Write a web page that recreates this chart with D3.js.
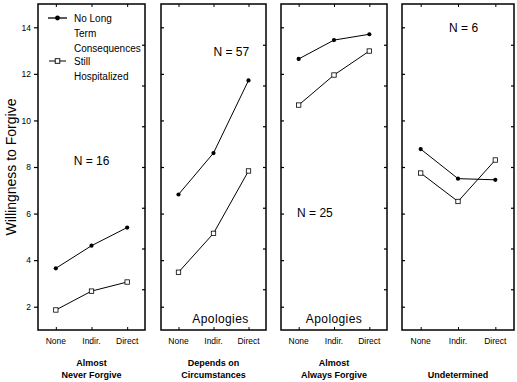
<!DOCTYPE html>
<html>
<head>
<meta charset="UTF-8">
<script src="https://d3js.org/d3.v7.min.js"></script>
<style>
  body { margin: 0; background: #fff; }
  text { font-family: "Liberation Sans", Arial, sans-serif; fill: #000; }
</style>
</head>
<body>
<svg width="517" height="382"></svg>
<script>
// Data
const categories = ["None", "Indir.", "Direct"];
const groups = [["Almost", "Never Forgive"], ["Depends on", "Circumstances"], ["Almost", "Always Forgive"], ["Undetermined"]];
const noLongTerm = [
  [3.65, 4.62, 5.4],
  [6.82, 8.6, 11.72],
  [12.64, 13.45, 13.7],
  [8.77, 7.5, 7.45]
];
const stillHosp = [
  [1.86, 2.67, 3.06],
  [3.48, 5.15, 7.83],
  [10.66, 11.95, 12.98],
  [7.74, 6.52, 8.3]
];
const nValues = [16, 57, 25, 6];
const yTicks = [2, 4, 6, 8, 10, 12, 14];

const svg = d3.select("svg");
const plotTop = 4, plotBottom = 330;
const panelLeft = [38, 161, 281, 402];
const panelRight = [145, 266, 387, 514];

const y = d3.scaleLinear().domain([1, 15]).range([plotBottom, plotTop]);
const yRight = d3.scaleLinear().domain([0, 8]).range([plotBottom, plotTop]);

// N label placement (x offset in panel fraction, y value)
const nPos = [[0.5, 8.1], [0.67, 12.75], [0.32, 5.85], [0.55, 13.8]];

groups.forEach((g, i) => {
  const x0 = panelLeft[i], x1 = panelRight[i];
  const x = d3.scalePoint().domain(categories).range([x0, x1]).padding(0.5);
  const p = svg.append("g");

  // ticks
  p.append("g").attr("transform", `translate(${x0},0)`)
    .call(i === 0 ? d3.axisLeft(y).tickValues(yTicks).tickSize(4).tickPadding(3)
                  : d3.axisRight(y).tickValues(yTicks).tickSize(3).tickFormat(""))
    .call(a => a.select(".domain").remove())
    .call(a => a.selectAll("text").style("font-size", "8.5px").attr("fill", "#333"))
    .call(a => a.selectAll("line").attr("stroke-width", 1.2));
  p.append("g").attr("transform", `translate(${x1},0)`)
    .call(d3.axisLeft(yRight).tickValues([1,2,3,4,5,6,7]).tickSize(3).tickFormat(""))
    .call(a => a.select(".domain").remove())
    .call(a => a.selectAll("line").attr("stroke-width", 1.2));
  p.append("g").attr("transform", `translate(0,${plotTop})`)
    .call(d3.axisBottom(x).tickSize(3).tickFormat(""))
    .call(a => a.select(".domain").remove());
  p.append("g").attr("transform", `translate(0,${plotBottom})`)
    .call(d3.axisTop(x).tickSize(3).tickFormat(""))
    .call(a => a.select(".domain").remove());
  p.selectAll(".cat").data(categories).join("text")
    .attr("x", d => x(d)).attr("y", plotBottom + 14)
    .attr("text-anchor", "middle").style("font-size", "8.5px").attr("fill", "#333")
    .text(d => d);

  // frame
  p.append("rect").attr("x", x0).attr("y", plotTop)
    .attr("width", x1 - x0).attr("height", plotBottom - plotTop)
    .attr("fill", "none").attr("stroke", "#000").attr("stroke-width", 1.5);

  // lines
  const line = d3.line().x((d, j) => x(categories[j])).y(d => y(d));
  p.append("path").attr("d", line(noLongTerm[i])).attr("fill", "none").attr("stroke", "#000").attr("stroke-width", 1);
  p.append("path").attr("d", line(stillHosp[i])).attr("fill", "none").attr("stroke", "#000").attr("stroke-width", 1);
  p.selectAll(".dot").data(noLongTerm[i]).join("circle")
    .attr("cx", (d, j) => x(categories[j])).attr("cy", d => y(d)).attr("r", 2.1).attr("fill", "#000");
  p.selectAll(".sq").data(stillHosp[i]).join("rect")
    .attr("x", (d, j) => x(categories[j]) - 2.2).attr("y", d => y(d) - 2.2)
    .attr("width", 4.4).attr("height", 4.4).attr("fill", "#fff").attr("stroke", "#000").attr("stroke-width", 0.8);

  // N label
  p.append("text").attr("x", x0 + (x1 - x0) * nPos[i][0]).attr("y", y(nPos[i][1]))
    .attr("text-anchor", "middle").style("font-size", "12px").text(`N = ${nValues[i]}`);

  if (i === 1 || i === 2) {
    p.append("text").attr("x", (x(categories[1]) + (i === 1 ? 7 : 0))).attr("y", plotBottom - 7)
      .attr("text-anchor", "middle").style("font-size", "12px").style("letter-spacing", "0.4px").text("Apologies");
  }

  // group titles
  const cx = (x0 + x1) / 2;
  const lines = g.length === 2 ? g : ["", g[0]];
  lines.forEach((t, k) => {
    p.append("text").attr("x", cx).attr("y", 366 + k * 12)
      .attr("text-anchor", "middle").style("font-size", "9px").style("font-weight", "bold").text(t);
  });
});

// y axis title
svg.append("text").attr("transform", `translate(16,${(plotTop + plotBottom) / 2}) rotate(-90)`)
  .attr("text-anchor", "middle").style("font-size", "14px").text("Willingness to Forgive");

// legend
const lg = svg.append("g").attr("transform", "translate(48,0)");
lg.append("line").attr("x1", 0).attr("x2", 19).attr("y1", 18).attr("y2", 18).attr("stroke", "#000").attr("stroke-width", 1.3);
lg.append("circle").attr("cx", 9.5).attr("cy", 18).attr("r", 2.4);
lg.append("line").attr("x1", 1).attr("x2", 18).attr("y1", 61).attr("y2", 61).attr("stroke", "#000").attr("stroke-width", 1);
lg.append("rect").attr("x", 7.2).attr("y", 58.7).attr("width", 4.6).attr("height", 4.6).attr("fill", "#fff").attr("stroke", "#000").attr("stroke-width", 0.9);
const legendLines = [["No Long", 18], ["Term", 33], ["Consequences", 48], ["Still", 61], ["Hospitalized", 76]];
lg.selectAll(".lt").data(legendLines).join("text")
  .attr("x", 26).attr("y", d => d[1] + 3.5).style("font-size", "10px").text(d => d[0]);
</script>
</body>
</html>
